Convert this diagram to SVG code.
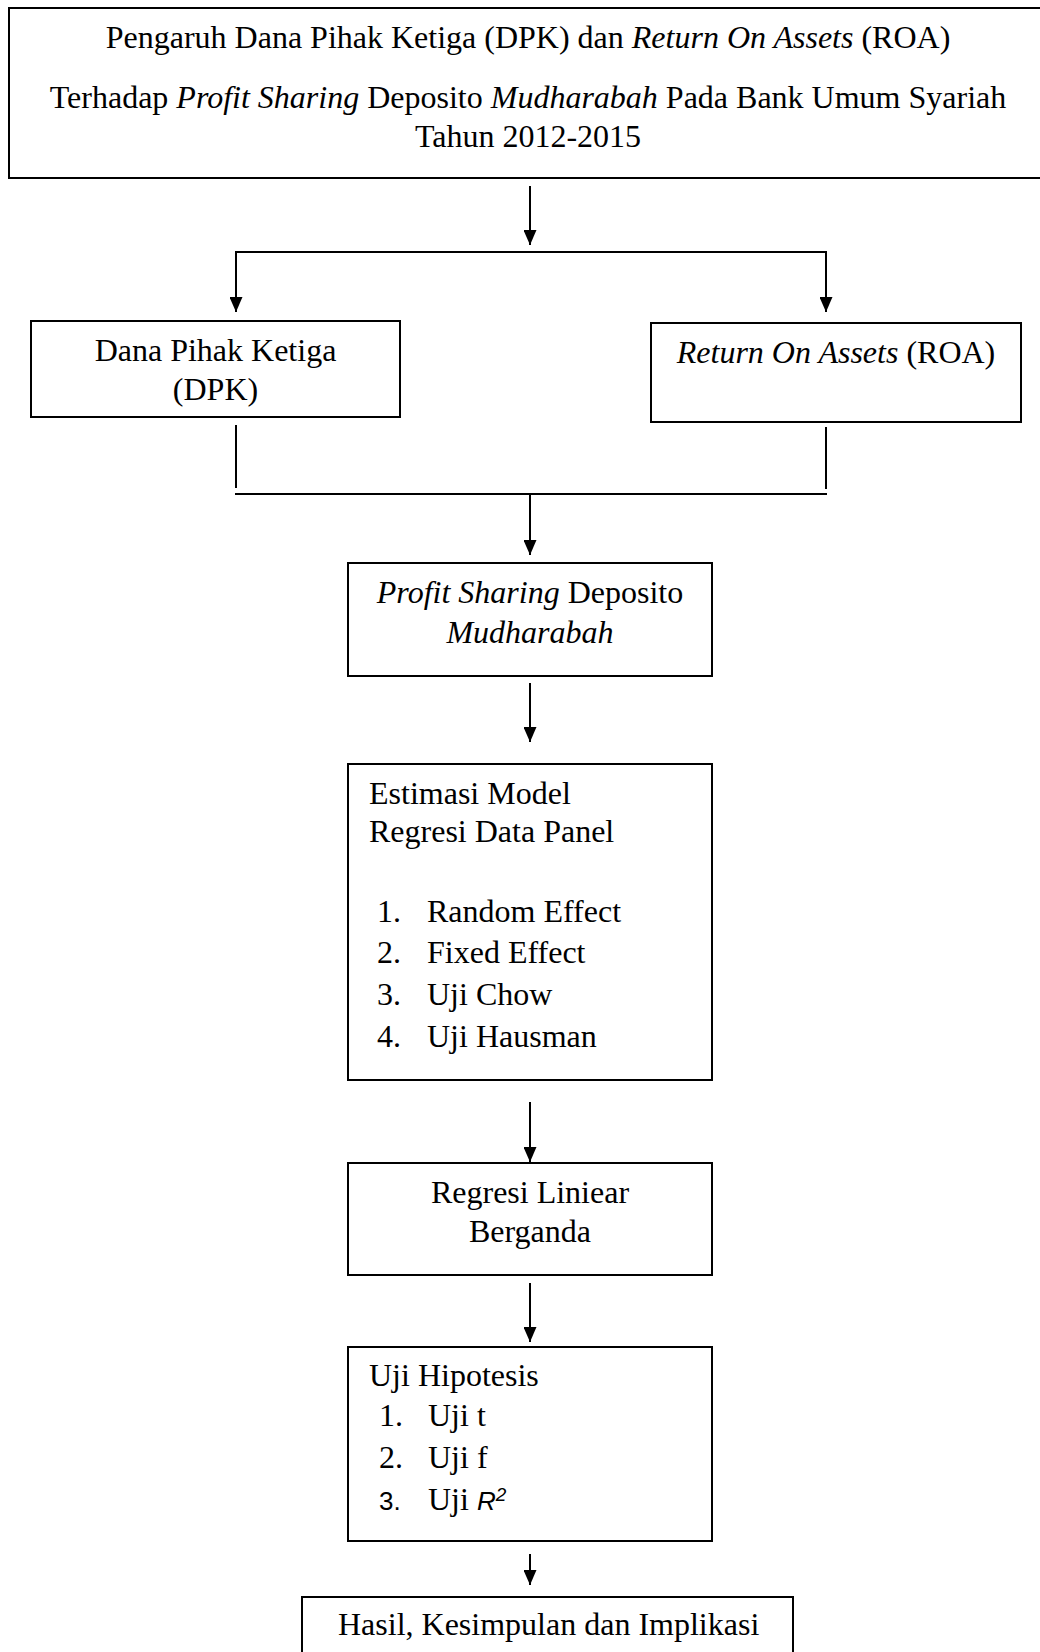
<svg xmlns="http://www.w3.org/2000/svg" width="1040" height="1652" viewBox="0 0 1040 1652">
<style>
  .box { fill: #fff; stroke: #000; stroke-width: 2; }
  .ln { fill: none; stroke: #000; stroke-width: 2; }
  .t { font-family: "Liberation Serif", "Times New Roman", serif; font-size: 32px; fill: #000; }
  .c { text-anchor: middle; }
  .i { font-style: italic; }
  .s { font-family: "Liberation Sans", Arial, sans-serif; font-size: 26px; }
  .sup { font-family: "Liberation Sans", Arial, sans-serif; font-size: 19px; font-style: italic; }
</style>
<defs>
  <marker id="ah" viewBox="0 0 15 13" refX="15" refY="6.5" markerWidth="15" markerHeight="13" markerUnits="userSpaceOnUse" orient="auto">
    <path d="M0,0 L15,6.5 L0,13 Z" fill="#000"/>
  </marker>
</defs>
<rect width="1040" height="1652" fill="#fff"/>

<g id="connectors">
  <line class="ln" x1="530" y1="186" x2="530" y2="245" marker-end="url(#ah)"/>
  <line class="ln" x1="235" y1="252" x2="827" y2="252"/>
  <line class="ln" x1="236" y1="252" x2="236" y2="312" marker-end="url(#ah)"/>
  <line class="ln" x1="826" y1="252" x2="826" y2="312" marker-end="url(#ah)"/>
  <line class="ln" x1="236" y1="425" x2="236" y2="488"/>
  <line class="ln" x1="826" y1="427" x2="826" y2="489"/>
  <line class="ln" x1="235" y1="494" x2="827" y2="494"/>
  <line class="ln" x1="530" y1="494" x2="530" y2="555" marker-end="url(#ah)"/>
  <line class="ln" x1="530" y1="683" x2="530" y2="742" marker-end="url(#ah)"/>
  <line class="ln" x1="530" y1="1102" x2="530" y2="1162" marker-end="url(#ah)"/>
  <line class="ln" x1="530" y1="1283" x2="530" y2="1342" marker-end="url(#ah)"/>
  <line class="ln" x1="530" y1="1554" x2="530" y2="1585" marker-end="url(#ah)"/>
</g>

<g id="judul">
  <rect class="box" x="9" y="8" width="1045" height="170"/>
  <text class="t c" x="528" y="48">Pengaruh Dana Pihak Ketiga (DPK) dan <tspan class="i">Return On Assets</tspan> (ROA)</text>
  <text class="t c" x="528" y="108">Terhadap <tspan class="i">Profit Sharing</tspan> Deposito <tspan class="i">Mudharabah</tspan> Pada Bank Umum Syariah</text>
  <text class="t c" x="528" y="147">Tahun 2012-2015</text>
</g>

<g id="dpk">
  <rect class="box" x="31" y="321" width="369" height="96"/>
  <text class="t c" x="215.5" y="361">Dana Pihak Ketiga</text>
  <text class="t c" x="215.5" y="400">(DPK)</text>
</g>

<g id="roa">
  <rect class="box" x="651" y="323" width="370" height="99"/>
  <text class="t c" x="836" y="363"><tspan class="i">Return On Assets</tspan> (ROA)</text>
</g>

<g id="profit-sharing">
  <rect class="box" x="348" y="563" width="364" height="113"/>
  <text class="t c" x="530" y="603"><tspan class="i">Profit Sharing</tspan> Deposito</text>
  <text class="t c i" x="530" y="643">Mudharabah</text>
</g>

<g id="estimasi">
  <rect class="box" x="348" y="764" width="364" height="316"/>
  <text class="t" x="369" y="804">Estimasi Model</text>
  <text class="t" x="369" y="842">Regresi Data Panel</text>
  <text class="t" x="377" y="922">1.</text><text class="t" x="427" y="922">Random Effect</text>
  <text class="t" x="377" y="963">2.</text><text class="t" x="427" y="963">Fixed Effect</text>
  <text class="t" x="377" y="1005">3.</text><text class="t" x="427" y="1005">Uji Chow</text>
  <text class="t" x="377" y="1047">4.</text><text class="t" x="427" y="1047">Uji Hausman</text>
</g>

<g id="regresi">
  <rect class="box" x="348" y="1163" width="364" height="112"/>
  <text class="t c" x="530" y="1203">Regresi Liniear</text>
  <text class="t c" x="530" y="1242">Berganda</text>
</g>

<g id="uji-hipotesis">
  <rect class="box" x="348" y="1347" width="364" height="194"/>
  <text class="t" x="369" y="1386">Uji Hipotesis</text>
  <text class="t" x="379" y="1426">1.</text><text class="t" x="428" y="1426">Uji t</text>
  <text class="t" x="379" y="1468">2.</text><text class="t" x="428" y="1468">Uji f</text>
  <text class="t s" x="379" y="1510">3.</text><text class="t" x="428" y="1510">Uji <tspan class="s i">R</tspan><tspan class="sup" dy="-9">2</tspan></text>
</g>

<g id="hasil">
  <rect class="box" x="302" y="1597" width="491" height="80"/>
  <text class="t" x="338" y="1635">Hasil, Kesimpulan dan Implikasi</text>
</g>
</svg>
